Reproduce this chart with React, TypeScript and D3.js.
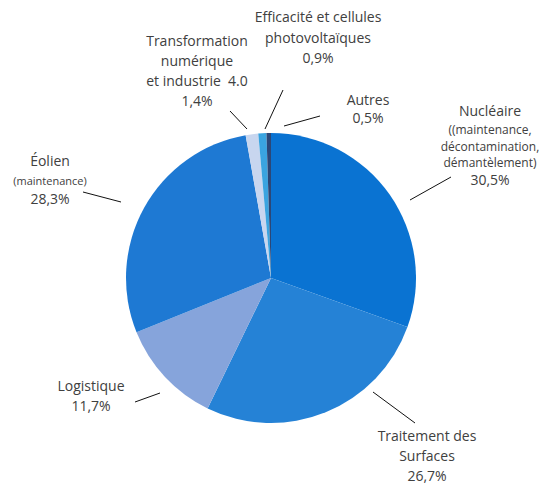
import React from "react";
import * as d3 from "d3";

const categories = [
  "Nucléaire",
  "Traitement des Surfaces",
  "Logistique",
  "Éolien",
  "Transformation numérique et industrie 4.0",
  "Efficacité et cellules photovoltaïques",
  "Autres",
];
const values = [30.5, 26.7, 11.7, 28.3, 1.4, 0.9, 0.5];
const valueLabels = ["30,5%", "26,7%", "11,7%", "28,3%", "1,4%", "0,9%", "0,5%"];
const colors = ["#0a73d2", "#2582d6", "#86a4db", "#1e79d3", "#c8d6ef", "#3aa4e0", "#2c4777"];

type Line = { t: string; s: number };
const labelLines: Line[][] = [
  [{ t: "Nucléaire", s: 14 }, { t: "((maintenance,", s: 12 }, { t: "décontamination,", s: 12 }, { t: "démantèlement)", s: 12 }, { t: valueLabels[0], s: 14 }],
  [{ t: "Traitement des", s: 14 }, { t: "Surfaces", s: 14 }, { t: valueLabels[1], s: 14 }],
  [{ t: "Logistique", s: 14 }, { t: valueLabels[2], s: 14 }],
  [{ t: "Éolien", s: 14 }, { t: "(maintenance)", s: 11 }, { t: valueLabels[3], s: 14 }],
  [{ t: "Transformation", s: 14 }, { t: "numérique", s: 14 }, { t: "et industrie  4.0", s: 14 }, { t: valueLabels[4], s: 14 }],
  [{ t: "Efficacité et cellules", s: 14 }, { t: "photovoltaïques", s: 14 }, { t: valueLabels[5], s: 14 }],
  [{ t: "Autres", s: 14 }, { t: valueLabels[6], s: 14 }],
];
const labelPos: { x: number; ys: number[]; line: [number, number, number, number] }[] = [
  { x: 490, ys: [116, 134, 151, 167, 185], line: [410, 200, 451, 177] },
  { x: 427, ys: [441, 461, 481], line: [373, 392, 415, 423] },
  { x: 91, ys: [391, 411], line: [135, 402, 160, 393] },
  { x: 50, ys: [166, 185, 204], line: [83, 192, 121, 202] },
  { x: 197, ys: [46, 66, 86, 106], line: [230, 111, 247, 129] },
  { x: 318, ys: [22, 43, 63], line: [265, 129, 283, 90] },
  { x: 368, ys: [105, 123], line: [284, 126, 320, 116] },
];

const W = 539;
const H = 485;
const cx = 271;
const cy = 278;
const R = 145;

export default function App() {
  const pie = d3.pie<number>().sort(null).value((d) => d)(values);
  const arc = d3.arc<d3.PieArcDatum<number>>().innerRadius(0).outerRadius(R);
  return (
    <svg
      width={W}
      height={H}
      style={{ position: "absolute", left: 0, top: 0, background: "#fff" }}
      fontFamily="'Open Sans', 'Noto Sans', sans-serif"
    >
      <g transform={`translate(${cx},${cy})`}>
        {pie.map((p, i) => (
          <path key={categories[i]} d={arc(p) || ""} fill={colors[i]} />
        ))}
      </g>
      {labelPos.map((lp, i) => (
        <g key={i}>
          <line x1={lp.line[0]} y1={lp.line[1]} x2={lp.line[2]} y2={lp.line[3]} stroke="#111" strokeWidth={1} />
          {labelLines[i].map((ln, j) => (
            <text
              key={j}
              x={lp.x}
              y={lp.ys[j]}
              textAnchor="middle"
              fontSize={ln.s}
              fill="#404040"
              style={{ whiteSpace: "pre" }}
            >
              {ln.t}
            </text>
          ))}
        </g>
      ))}
    </svg>
  );
}
